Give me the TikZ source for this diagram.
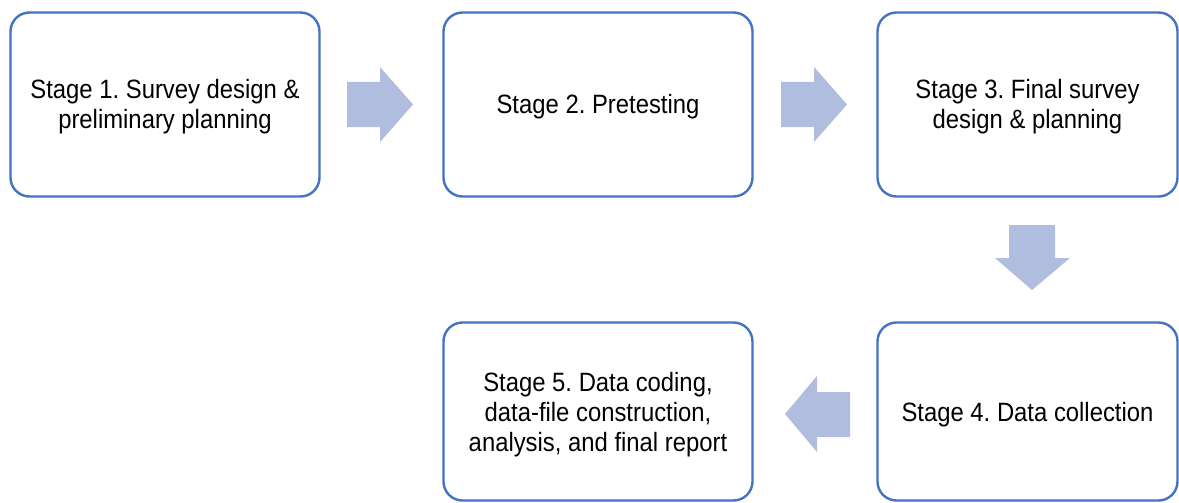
\documentclass[tikz,border=0pt]{standalone}
\usepackage{fontspec}
\setmainfont{Liberation Sans}[FakeStretch=0.9]
\definecolor{stageline}{RGB}{68,114,196}
\definecolor{flowfill}{RGB}{176,189,223}
\begin{document}
\frenchspacing
\begin{tikzpicture}[x=1pt,y=-1pt,
  stagebox/.style={draw=stageline, line width=2.4pt, rounded corners=19pt, fill=white, inner sep=0pt},
  stagetext/.style={align=center, font=\fontsize{26.5}{30}\selectfont, inner sep=0pt},
  flowarrow/.style={fill=flowfill, draw=none}]
\useasboundingbox (0,0) rectangle (1179,503);
% stage boxes
\node[stagebox, minimum width=309pt, minimum height=184pt] (s1) at (165,104.5) {};
\node[stagebox, minimum width=309pt, minimum height=184pt] (s2) at (598,104.5) {};
\node[stagebox, minimum width=300pt, minimum height=184pt] (s3) at (1027.5,104.5) {};
\node[stagebox, minimum width=300pt, minimum height=178pt] (s4) at (1027.5,411.5) {};
\node[stagebox, minimum width=309pt, minimum height=178pt] (s5) at (598,411.5) {};
% stage labels, set a little below each box centre
\node[stagetext] (t1) at ([yshift=-2.5pt]s1.center) {Stage 1. Survey design \&\\preliminary planning};
\node[stagetext] (t2) at ([yshift=-2.5pt]s2.center) {Stage 2. Pretesting};
\node[stagetext] (t3) at ([yshift=-2.5pt]s3.center) {Stage 3. Final survey\\design \& planning};
\node[stagetext] (t4) at ([yshift=-3pt]s4.center) {Stage 4. Data collection};
\node[stagetext] (t5) at ([yshift=-3pt]s5.center) {Stage 5. Data coding,\\data-file construction,\\analysis, and final report};
% block arrows between stages
\fill[flowarrow] (347,82) -- (380,82) -- (380,67) -- (413,104.5) -- (380,142) -- (380,127) -- (347,127) -- cycle;
\fill[flowarrow] (781,82) -- (814,82) -- (814,67) -- (847,104.5) -- (814,142) -- (814,127) -- (781,127) -- cycle;
\fill[flowarrow] (1009,225) -- (1055,225) -- (1055,258) -- (1070,258) -- (1032,290) -- (995,258) -- (1009,258) -- cycle;
\fill[flowarrow] (850,392) -- (817,392) -- (817,376) -- (785,414) -- (817,452) -- (817,437) -- (850,437) -- cycle;
\end{tikzpicture}
\end{document}
